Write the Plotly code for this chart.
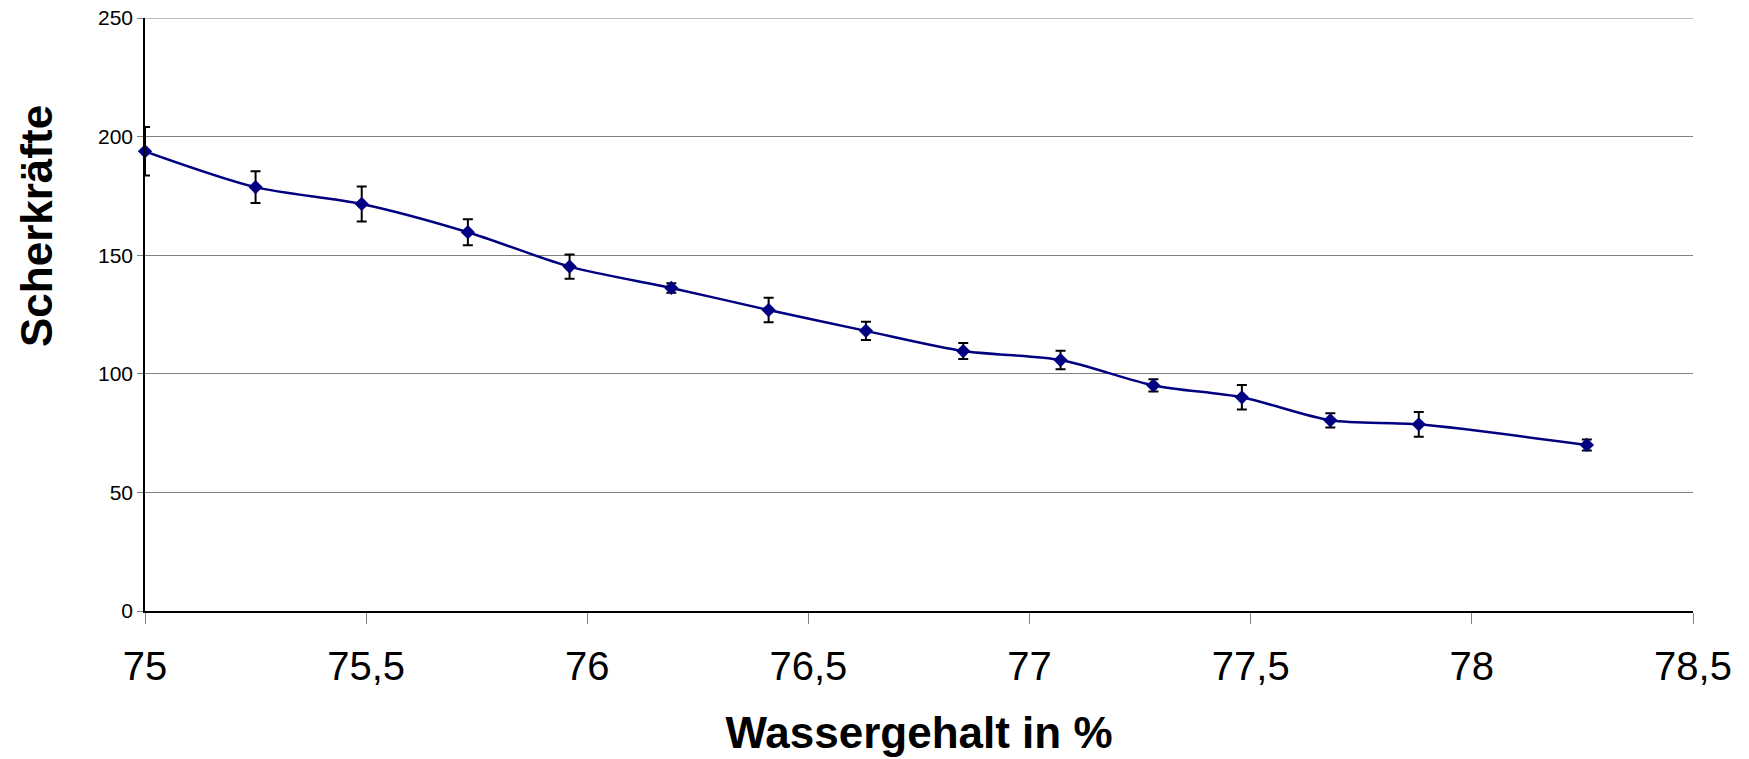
import plotly.graph_objects as go

# Data
wassergehalt = [75.00, 75.25, 75.49, 75.73, 75.96, 76.19, 76.41, 76.63,
                76.85, 77.07, 77.28, 77.48, 77.68, 77.88, 78.26]
scherkraefte = [193.8, 178.7, 171.6, 159.7, 145.2, 136.2, 126.9, 118.1,
                109.6, 105.8, 95.1, 90.1, 80.4, 78.7, 70.0]
fehler = [10.2, 6.7, 7.4, 5.5, 5.1, 2.0, 5.2, 3.8, 3.4, 3.9, 2.6, 5.2, 3.0, 5.2, 2.3]

x_ticks = [75, 75.5, 76, 76.5, 77, 77.5, 78, 78.5]
y_ticks = [0, 50, 100, 150, 200, 250]

FONT = "Liberation Sans, Arial, sans-serif"
NAVY = "#000080"

fig = go.Figure()
fig.add_trace(go.Scatter(
    x=wassergehalt, y=scherkraefte,
    mode="lines",
    line=dict(color=NAVY, width=2.5, shape="spline", smoothing=0.8),
    error_y=dict(type="data", array=fehler, visible=True,
                 color="black", thickness=2, width=5),
    cliponaxis=True,
    showlegend=False, hoverinfo="skip",
))
fig.add_trace(go.Scatter(
    x=wassergehalt, y=scherkraefte,
    mode="markers",
    marker=dict(symbol="diamond", size=11, color=NAVY),
    cliponaxis=False,
    showlegend=False,
))

# top gridline at the upper range limit (plotly omits grid at the edge)
fig.add_shape(type="line", xref="paper", yref="y", x0=0, x1=1,
              y0=y_ticks[-1], y1=y_ticks[-1],
              line=dict(color="#7f7f7f", width=1), layer="below")

# y-axis title, placed in the upper part of the axis as in the original
fig.add_annotation(
    text="<b>Scherkräfte</b>", textangle=-90,
    xref="paper", yref="paper", x=-0.0705, y=0.649,
    xanchor="center", yanchor="middle", showarrow=False,
    font=dict(size=44, family=FONT, color="black"),
)

fig.update_layout(
    width=1749, height=759,
    margin=dict(l=145, r=56, t=18, b=148),
    paper_bgcolor="white", plot_bgcolor="white",
    separators=",.",
    font=dict(family=FONT, color="black"),
    xaxis=dict(
        range=[75, 78.5], tickvals=x_ticks,
        automargin=False,
        showgrid=False, zeroline=False,
        showline=True, linecolor="black", linewidth=1.5,
        ticks="outside", ticklen=11, tickcolor="#808080", tickwidth=1,
        ticklabelstandoff=8,
        tickfont=dict(size=40, family=FONT, color="black"),
        title=dict(text="<b>Wassergehalt in %</b>",
                   font=dict(size=44, family=FONT, color="black"),
                   standoff=30),
    ),
    yaxis=dict(
        range=[0, 250], tickvals=y_ticks,
        automargin=False,
        showgrid=True, gridcolor="#7f7f7f", gridwidth=1,
        zeroline=False,
        showline=True, linecolor="black", linewidth=1.5,
        ticks="outside", ticklen=6, tickcolor="#808080", tickwidth=1,
        tickfont=dict(size=21, family=FONT, color="black"),
    ),
)

fig.write_html("out.html")
